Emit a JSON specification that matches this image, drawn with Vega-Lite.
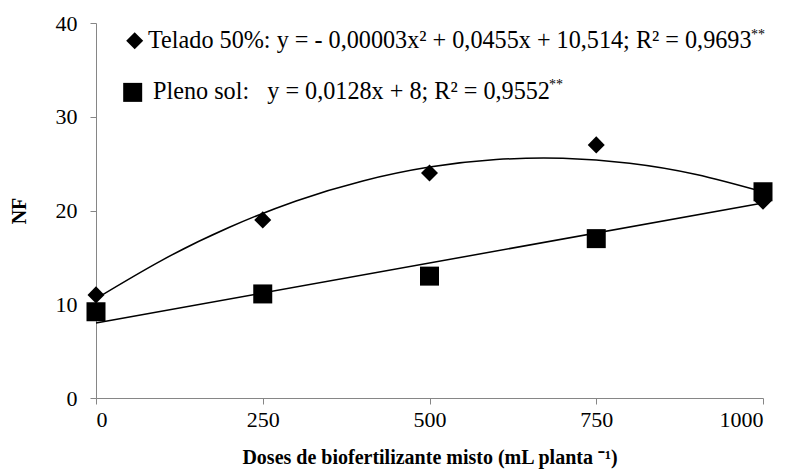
{
  "$schema": "https://vega.github.io/schema/vega-lite/v6.json",
  "width": 667,
  "height": 375,
  "autosize": {"type": "none"},
  "padding": {"left": 96, "top": 23, "right": 24, "bottom": 75},
  "background": "white",
  "config": {
    "view": {"stroke": null},
    "font": "Liberation Serif",
    "text": {"font": "Liberation Serif"},
    "axis": {
      "grid": false,
      "domainColor": "#868686",
      "tickColor": "#868686",
      "labelColor": "black",
      "titleColor": "black",
      "labelFont": "Liberation Serif",
      "titleFont": "Liberation Serif",
      "labelFontSize": 22,
      "titleFontSize": 20,
      "titleFontWeight": "bold",
      "tickSize": 6
    }
  },
  "datasets": {
    "curves": [
      {"serie": "Telado 50%", "dose": 0, "nf": 10.6},
      {"serie": "Telado 50%", "dose": 100, "nf": 14.74},
      {"serie": "Telado 50%", "dose": 200, "nf": 18.21},
      {"serie": "Telado 50%", "dose": 300, "nf": 21.02},
      {"serie": "Telado 50%", "dose": 400, "nf": 23.15},
      {"serie": "Telado 50%", "dose": 500, "nf": 24.63},
      {"serie": "Telado 50%", "dose": 600, "nf": 25.43},
      {"serie": "Telado 50%", "dose": 700, "nf": 25.57},
      {"serie": "Telado 50%", "dose": 800, "nf": 25.05},
      {"serie": "Telado 50%", "dose": 900, "nf": 23.85},
      {"serie": "Telado 50%", "dose": 1000, "nf": 22.0},
      {"serie": "Pleno sol", "dose": 0, "nf": 8.0},
      {"serie": "Pleno sol", "dose": 1000, "nf": 20.8}
    ],
    "points": [
      {"serie": "Telado 50%", "dose": 0, "nf": 11},
      {"serie": "Telado 50%", "dose": 250, "nf": 19},
      {"serie": "Telado 50%", "dose": 500, "nf": 24},
      {"serie": "Telado 50%", "dose": 750, "nf": 27},
      {"serie": "Telado 50%", "dose": 1000, "nf": 21},
      {"serie": "Pleno sol", "dose": 0, "nf": 9.2},
      {"serie": "Pleno sol", "dose": 250, "nf": 11.1},
      {"serie": "Pleno sol", "dose": 500, "nf": 13},
      {"serie": "Pleno sol", "dose": 750, "nf": 17},
      {"serie": "Pleno sol", "dose": 1000, "nf": 22}
    ],
    "legendSymbols": [
      {"serie": "Telado 50%", "dose": 58, "nf": 38.1},
      {"serie": "Pleno sol", "dose": 55, "nf": 32.6}
    ],
    "legend": [
      {"dose": 78, "nf": 38.1, "label": "Telado 50%: y = - 0,00003x² + 0,0455x + 10,514; R² = 0,9693"},
      {"dose": 85.5, "nf": 32.6, "label": "Pleno sol:\u00a0\u00a0 y = 0,0128x + 8; R² = 0,9552"}
    ],
    "stars": [
      {"dose": 982, "nf": 38.7, "label": "**"},
      {"dose": 679, "nf": 33.4, "label": "**"}
    ]
  },
  "layer": [
    {
      "data": {"name": "curves"},
      "mark": {"type": "line", "interpolate": "natural", "color": "black", "strokeWidth": 1.5},
      "encoding": {
        "x": {
          "field": "dose", "type": "quantitative",
          "scale": {"domain": [0, 1000], "nice": false},
          "axis": {"values": [0, 250, 500, 750, 1000], "format": "d", "title": "Doses de biofertilizante misto (mL planta ⁻¹)", "labelPadding": 5, "titlePadding": 17}
        },
        "y": {
          "field": "nf", "type": "quantitative",
          "scale": {"domain": [0, 40], "nice": false},
          "axis": {"values": [0, 10, 20, 30, 40], "title": "NF", "labelPadding": 13, "titlePadding": 26}
        },
        "detail": {"field": "serie"}
      }
    },
    {
      "data": {"name": "points"},
      "mark": {"type": "point", "filled": true, "color": "black", "opacity": 1},
      "encoding": {
        "x": {"field": "dose", "type": "quantitative"},
        "y": {"field": "nf", "type": "quantitative"},
        "shape": {"field": "serie", "type": "nominal", "scale": {"domain": ["Telado 50%", "Pleno sol"], "range": ["diamond", "square"]}, "legend": null},
        "size": {"field": "serie", "type": "nominal", "scale": {"domain": ["Telado 50%", "Pleno sol"], "range": [290, 361]}, "legend": null}
      }
    },
    {
      "data": {"name": "legendSymbols"},
      "mark": {"type": "point", "filled": true, "color": "black", "opacity": 1},
      "encoding": {
        "x": {"field": "dose", "type": "quantitative"},
        "y": {"field": "nf", "type": "quantitative"},
        "shape": {"field": "serie", "type": "nominal", "scale": {"domain": ["Telado 50%", "Pleno sol"], "range": ["diamond", "square"]}, "legend": null},
        "size": {"field": "serie", "type": "nominal", "scale": {"domain": ["Telado 50%", "Pleno sol"], "range": [115, 170]}, "legend": null}
      }
    },
    {
      "data": {"name": "legend"},
      "mark": {"type": "text", "align": "left", "baseline": "middle", "fontSize": 24.2, "color": "black"},
      "encoding": {
        "x": {"field": "dose", "type": "quantitative"},
        "y": {"field": "nf", "type": "quantitative"},
        "text": {"field": "label"}
      }
    },
    {
      "data": {"name": "stars"},
      "mark": {"type": "text", "align": "left", "baseline": "middle", "fontSize": 14, "color": "black"},
      "encoding": {
        "x": {"field": "dose", "type": "quantitative"},
        "y": {"field": "nf", "type": "quantitative"},
        "text": {"field": "label"}
      }
    }
  ]
}
